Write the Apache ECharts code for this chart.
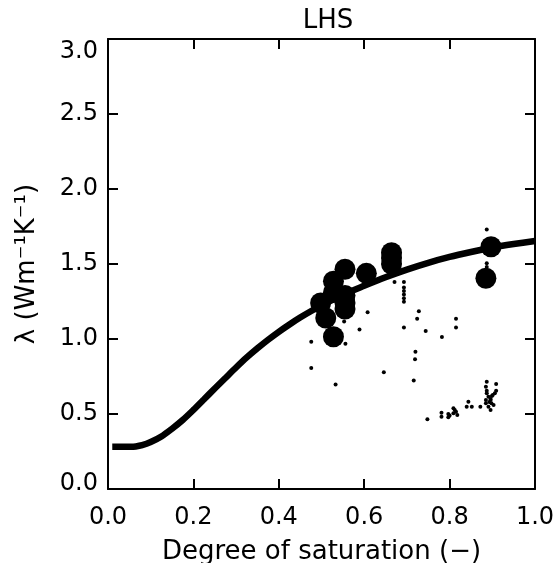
<!DOCTYPE html>
<html>
<head>
<meta charset="utf-8">
<script src="https://cdn.jsdelivr.net/npm/echarts@6/dist/echarts.min.js"></script>
<style>
html,body{margin:0;padding:0;background:#fff;}
#c{width:556px;height:563px;}
</style>
</head>
<body>
<div id="c"></div>
<script>
var titleText = 'LHS';
var xName = 'Degree of saturation (\u2212)';
var yName = '\u03bb (Wm\u207b\u00b9K\u207b\u00b9)';
var xTicks = [0, 0.2, 0.4, 0.6, 0.8, 1.0];
var yTicks = [0, 0.5, 1.0, 1.5, 2.0, 2.5, 3.0];

// model curve (saturation, conductivity)
var curveX = [0.01, 0.05, 0.065, 0.08, 0.10, 0.125, 0.15, 0.175, 0.20, 0.225, 0.25, 0.275, 0.30, 0.325, 0.35, 0.375, 0.40, 0.425, 0.45, 0.475, 0.50, 0.55, 0.60, 0.65, 0.70, 0.75, 0.80, 0.85, 0.90, 0.95, 1.0];
var curveY = [0.281, 0.282, 0.284, 0.292, 0.313, 0.35, 0.402, 0.46, 0.527, 0.598, 0.67, 0.74, 0.81, 0.877, 0.938, 0.995, 1.048, 1.097, 1.143, 1.185, 1.224, 1.295, 1.355, 1.412, 1.463, 1.508, 1.547, 1.58, 1.61, 1.633, 1.653];

// measured means (large circles)
var bigX = [0.498, 0.510, 0.528, 0.528, 0.528, 0.555, 0.555, 0.555, 0.555, 0.605, 0.664, 0.664, 0.664, 0.897, 0.885];
var bigY = [1.24, 1.14, 1.015, 1.385, 1.31, 1.465, 1.29, 1.24, 1.20, 1.438, 1.575, 1.54, 1.50, 1.615, 1.405];

// individual measurements (small dots)
var smallX = [0.887, 0.887, 0.887, 0.671, 0.693, 0.693, 0.693, 0.693, 0.693, 0.693, 0.553, 0.608, 0.589, 0.556, 0.476, 0.476, 0.533, 0.646, 0.693, 0.728, 0.724, 0.744, 0.782, 0.815, 0.815, 0.720, 0.719, 0.716,
  0.748, 0.781, 0.781, 0.797, 0.797, 0.800, 0.809, 0.812, 0.815, 0.809, 0.818, 0.844, 0.840, 0.852, 0.872, 0.887, 0.909,
  0.885, 0.887, 0.887, 0.891, 0.896, 0.898, 0.885, 0.891, 0.896, 0.906, 0.909, 0.901, 0.903, 0.896, 0.885, 0.893, 0.899];
var smallY = [1.73, 1.505, 1.48, 1.38, 1.38, 1.343, 1.32, 1.297, 1.271, 1.248, 1.117, 1.178, 1.063, 0.969, 0.982, 0.806, 0.696, 0.779, 1.077, 1.185, 1.135, 1.054, 1.013, 1.135, 1.077, 0.915, 0.865, 0.723,
  0.465, 0.509, 0.482, 0.50, 0.478, 0.49, 0.538, 0.527, 0.515, 0.505, 0.493, 0.582, 0.549, 0.549, 0.549, 0.715, 0.70,
  0.682, 0.655, 0.638, 0.615, 0.593, 0.571, 0.593, 0.549, 0.527, 0.638, 0.655, 0.627, 0.56, 0.60, 0.571, 0.58, 0.62];

function zip(a, b) { return a.map(function (v, i) { return [v, b[i]]; }); }

var FONT = 'DejaVu Sans';
var FS = 24;
var FS_NAME = 26;
function mkLine() { return {show: true, onZero: false, lineStyle: {color: '#000', width: 2}}; }
function mkTick() { return {show: true, inside: true, length: 10, lineStyle: {color: '#000', width: 2}}; }
var chart = echarts.init(document.getElementById('c'), null, {renderer: 'canvas'});
chart.setOption({
  animation: false,
  backgroundColor: '#fff',
  title: {text: titleText, left: 323, top: 3, textAlign: 'center',
    textStyle: {fontFamily: FONT, fontSize: FS_NAME, fontWeight: 'normal', color: '#000'}},
  grid: {left: 108, top: 39, right: 21, bottom: 74, containLabel: false, outerBoundsMode: 'none'},
  xAxis: [{
    type: 'value', min: 0, max: 1, interval: 0.2, position: 'bottom',
    name: xName, nameLocation: 'middle', nameGap: 50,
    nameTextStyle: {fontFamily: FONT, fontSize: FS_NAME, color: '#000'},
    axisLine: mkLine(), axisTick: mkTick(), splitLine: {show: false},
    axisLabel: {margin: 17, fontFamily: FONT, fontSize: FS, color: '#000',
      formatter: function (v) { return v.toFixed(1); }}
  }, {
    type: 'value', min: 0, max: 1, interval: 0.2, position: 'top',
    axisLine: mkLine(), axisTick: mkTick(), axisLabel: {show: false}, splitLine: {show: false}
  }],
  yAxis: [{
    type: 'value', min: 0, max: 3, interval: 0.5, position: 'left',
    name: yName, nameLocation: 'middle', nameGap: 68, nameRotate: 90,
    nameTextStyle: {fontFamily: FONT, fontSize: FS_NAME, color: '#000'},
    axisLine: mkLine(), axisTick: mkTick(), splitLine: {show: false},
    axisLabel: {margin: 10, fontFamily: FONT, fontSize: FS, color: '#000',
      formatter: function (v) {
        var s = v.toFixed(1);
        if (v >= 3) return '{top|' + s + '}';
        if (v <= 0) return '{bot|' + s + '}';
        return s;
      },
      rich: {
        top: {fontFamily: FONT, fontSize: FS, color: '#000', padding: [26, 0, 0, 0]},
        bot: {fontFamily: FONT, fontSize: FS, color: '#000', padding: [0, 0, 10, 0]}
      }}
  }, {
    type: 'value', min: 0, max: 3, interval: 0.5, position: 'right',
    axisLine: mkLine(), axisTick: mkTick(), axisLabel: {show: false}, splitLine: {show: false}
  }],
  series: [{
    type: 'line', data: zip(curveX, curveY), smooth: 0.3, showSymbol: false,
    xAxisIndex: 0, yAxisIndex: 0,
    lineStyle: {color: '#000', width: 6.5}, z: 3
  }, {
    type: 'scatter', data: zip(bigX, bigY), symbol: 'circle', symbolSize: 21,
    xAxisIndex: 0, yAxisIndex: 0,
    itemStyle: {color: '#000', opacity: 1}, z: 4
  }, {
    type: 'scatter', data: zip(smallX, smallY), symbol: 'circle', symbolSize: 4,
    xAxisIndex: 0, yAxisIndex: 0,
    itemStyle: {color: '#000', opacity: 1}, z: 4
  }, {
    type: 'scatter', data: [], xAxisIndex: 1, yAxisIndex: 1
  }]
});
</script>
</body>
</html>
